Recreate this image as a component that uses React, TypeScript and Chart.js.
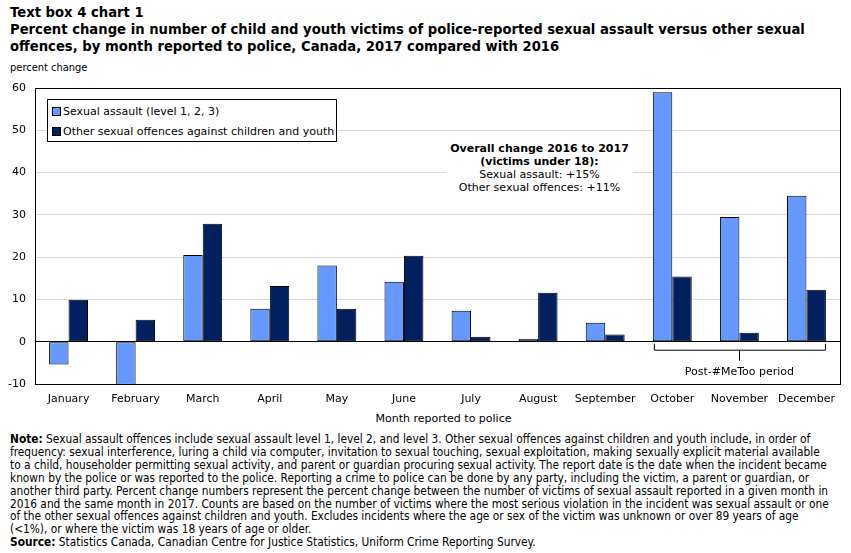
import React, { useEffect, useRef } from "react";
import { Chart, registerables } from "chart.js";

Chart.register(...registerables);

const months = [
  "January", "February", "March", "April", "May", "June",
  "July", "August", "September", "October", "November", "December",
];
const sexualAssault = [-5.4, -10.2, 20.5, 7.8, 18.0, 14.2, 7.3, 0.7, 4.5, 59.0, 29.5, 34.5];
const otherOffences = [9.9, 5.2, 27.9, 13.2, 7.8, 20.3, 1.2, 11.6, 1.7, 15.4, 2.1, 12.3];
const yTicks = [-10, 0, 10, 20, 30, 40, 50, 60];
const seriesNames = ["Sexual assault (level 1, 2, 3)", "Other sexual offences against children and youth"];
const seriesColors = ["#6699FF", "#002060"];
const braceLabel = "Post-#MeToo period";
const braceFrom = 9;
const braceTo = 11;

const FONT = "'DejaVu Sans', Verdana, sans-serif";
const NOTE_FONT = "'DejaVu Sans Condensed', 'DejaVu Sans', sans-serif";

// Bracket under the last three months with its caption
const bracePlugin = {
  id: "brace",
  afterDatasetsDraw(chart: any) {
    const { ctx } = chart;
    const m0 = chart.getDatasetMeta(0).data;
    const m1 = chart.getDatasetMeta(1).data;
    const y0 = chart.scales.y.getPixelForValue(0);
    const x1 = m0[braceFrom].x - m0[braceFrom].width / 2 + 1;
    const x2 = m1[braceTo].x + m1[braceTo].width / 2 - 1;
    const xm = (x1 + x2) / 2;
    const yb = y0 + 8;
    ctx.save();
    ctx.strokeStyle = "#000";
    ctx.lineWidth = 1;
    ctx.beginPath();
    ctx.moveTo(x1 + 0.5, y0 + 2);
    ctx.lineTo(x1 + 0.5, yb + 0.5);
    ctx.lineTo(x2 + 0.5, yb + 0.5);
    ctx.lineTo(x2 + 0.5, y0 + 2);
    ctx.moveTo(Math.round(xm) + 0.5, yb);
    ctx.lineTo(Math.round(xm) + 0.5, yb + 11);
    ctx.stroke();
    ctx.fillStyle = "#000";
    ctx.font = `11px ${FONT}`;
    ctx.textAlign = "center";
    ctx.textBaseline = "middle";
    ctx.fillText(braceLabel, xm, yb + 22);
    ctx.restore();
  },
};

export default function App() {
  const canvasRef = useRef<HTMLCanvasElement | null>(null);

  useEffect(() => {
    const chart = new Chart(canvasRef.current as HTMLCanvasElement, {
      type: "bar",
      data: {
        labels: months,
        datasets: [
          {
            label: seriesNames[0],
            data: sexualAssault,
            backgroundColor: seriesColors[0],
            borderColor: "#000",
            borderWidth: 1,
            borderSkipped: false,
          },
          {
            label: seriesNames[1],
            data: otherOffences,
            backgroundColor: seriesColors[1],
            borderColor: "#000",
            borderWidth: 1,
            borderSkipped: false,
          },
        ],
      },
      options: {
        animation: false,
        responsive: false,
        maintainAspectRatio: false,
        layout: { padding: { top: 88, right: 11, left: 0, bottom: 0 } },
        plugins: {
          legend: { display: false },
          tooltip: { enabled: false },
        },
        datasets: { bar: { categoryPercentage: 0.58, barPercentage: 1 } },
        scales: {
          x: {
            grid: { display: false, drawTicks: false },
            border: { display: true, color: "#000" },
            ticks: { color: "#000", font: { family: FONT, size: 11 }, padding: 9, maxRotation: 0, autoSkip: false },
            afterFit(scale: any) { scale.height = 26; },
          },
          y: {
            min: -10,
            max: 60,
            afterBuildTicks(scale: any) { scale.ticks = yTicks.map((v) => ({ value: v })); },
            grid: {
              drawTicks: false,
              color: (c: any) => (c.tick && c.tick.value === 0 ? "#000" : "#D9D9D9"),
              lineWidth: 1,
            },
            border: { display: true, color: "#000" },
            ticks: { color: "#000", font: { family: FONT, size: 11 }, padding: 9 },
            afterFit(scale: any) { scale.width = 35; },
          },
        },
      },
      plugins: [
        bracePlugin,
        {
          id: "frame",
          afterDraw(chart: any) {
            const a = chart.chartArea;
            const c = chart.ctx;
            c.save();
            c.strokeStyle = "#000";
            c.lineWidth = 1;
            c.strokeRect(Math.round(a.left) + 0.5, Math.round(a.top) + 0.5, Math.round(a.right - a.left), Math.round(a.bottom - a.top));
            c.restore();
          },
        },
      ],
    } as any);
    return () => chart.destroy();
  }, []);

  const abs = (left: number, top: number, extra: React.CSSProperties = {}): React.CSSProperties => ({
    position: "absolute",
    left,
    top,
    whiteSpace: "nowrap",
    color: "#000",
    ...extra,
  });

  return (
    <div style={{ position: "absolute", left: 0, top: 0, width: 851, height: 553, background: "#fff", overflow: "hidden", fontFamily: FONT }}>
      <div style={abs(10, 4, { fontFamily: FONT, fontWeight: "bold", fontSize: 13.2, lineHeight: "17px" })}>
        Text box 4 chart 1
        <br />
        Percent change in number of child and youth victims of police-reported sexual assault versus other sexual
        <br />
        offences, by month reported to police, Canada, 2017 compared with 2016
      </div>
      <div style={abs(10, 61, { fontFamily: NOTE_FONT, fontSize: 11, lineHeight: "14px" })}>percent change</div>

      <canvas ref={canvasRef} width={851} height={410} style={{ position: "absolute", left: 0, top: 0 }} />

      {/* legend */}
      <div style={abs(47, 99, { width: 290, height: 43, border: "1px solid #000", boxSizing: "border-box", background: "#fff", fontSize: 11 })}>
        {seriesNames.map((n, i) => (
          <div key={n} style={{ position: "absolute", left: 4, top: 4 + i * 20, height: 14, display: "flex", alignItems: "center" }}>
            <span style={{ display: "inline-block", width: 7, height: 7, background: seriesColors[i], border: "1px solid #000", marginRight: 2 }} />
            <span>{n}</span>
          </div>
        ))}
      </div>

      {/* overall change note */}
      <div style={abs(446, 140, { width: 187, textAlign: "center", background: "#fff", fontSize: 11, lineHeight: "13px", paddingTop: 2, paddingBottom: 3 })}>
        <b>Overall change 2016 to 2017</b>
        <br />
        <b>(victims under 18):</b>
        <br />
        Sexual assault: +15%
        <br />
        Other sexual offences: +11%
      </div>

      <div style={abs(0, 412, { width: 851, textAlign: "center", paddingLeft: 36, boxSizing: "border-box", fontSize: 11 })}>Month reported to police</div>

      <div style={abs(10, 433, { fontFamily: NOTE_FONT, fontSize: 11.8, lineHeight: "12.9px" })}>
        <b>Note:</b> Sexual assault offences include sexual assault level 1, level 2, and level 3. Other sexual offences against children and youth include, in order of
        <br />
        frequency: sexual interference, luring a child via computer, invitation to sexual touching, sexual exploitation, making sexually explicit material available
        <br />
        to a child, householder permitting sexual activity, and parent or guardian procuring sexual activity. The report date is the date when the incident became
        <br />
        known by the police or was reported to the police. Reporting a crime to police can be done by any party, including the victim, a parent or guardian, or
        <br />
        another third party. Percent change numbers represent the percent change between the number of victims of sexual assault reported in a given month in
        <br />
        2016 and the same month in 2017. Counts are based on the number of victims where the most serious violation in the incident was sexual assault or one
        <br />
        of the other sexual offences against children and youth. Excludes incidents where the age or sex of the victim was unknown or over 89 years of age
        <br />
        (&lt;1%), or where the victim was 18 years of age or older.
        <br />
        <b>Source:</b> Statistics Canada, Canadian Centre for Justice Statistics, Uniform Crime Reporting Survey.
      </div>
    </div>
  );
}
